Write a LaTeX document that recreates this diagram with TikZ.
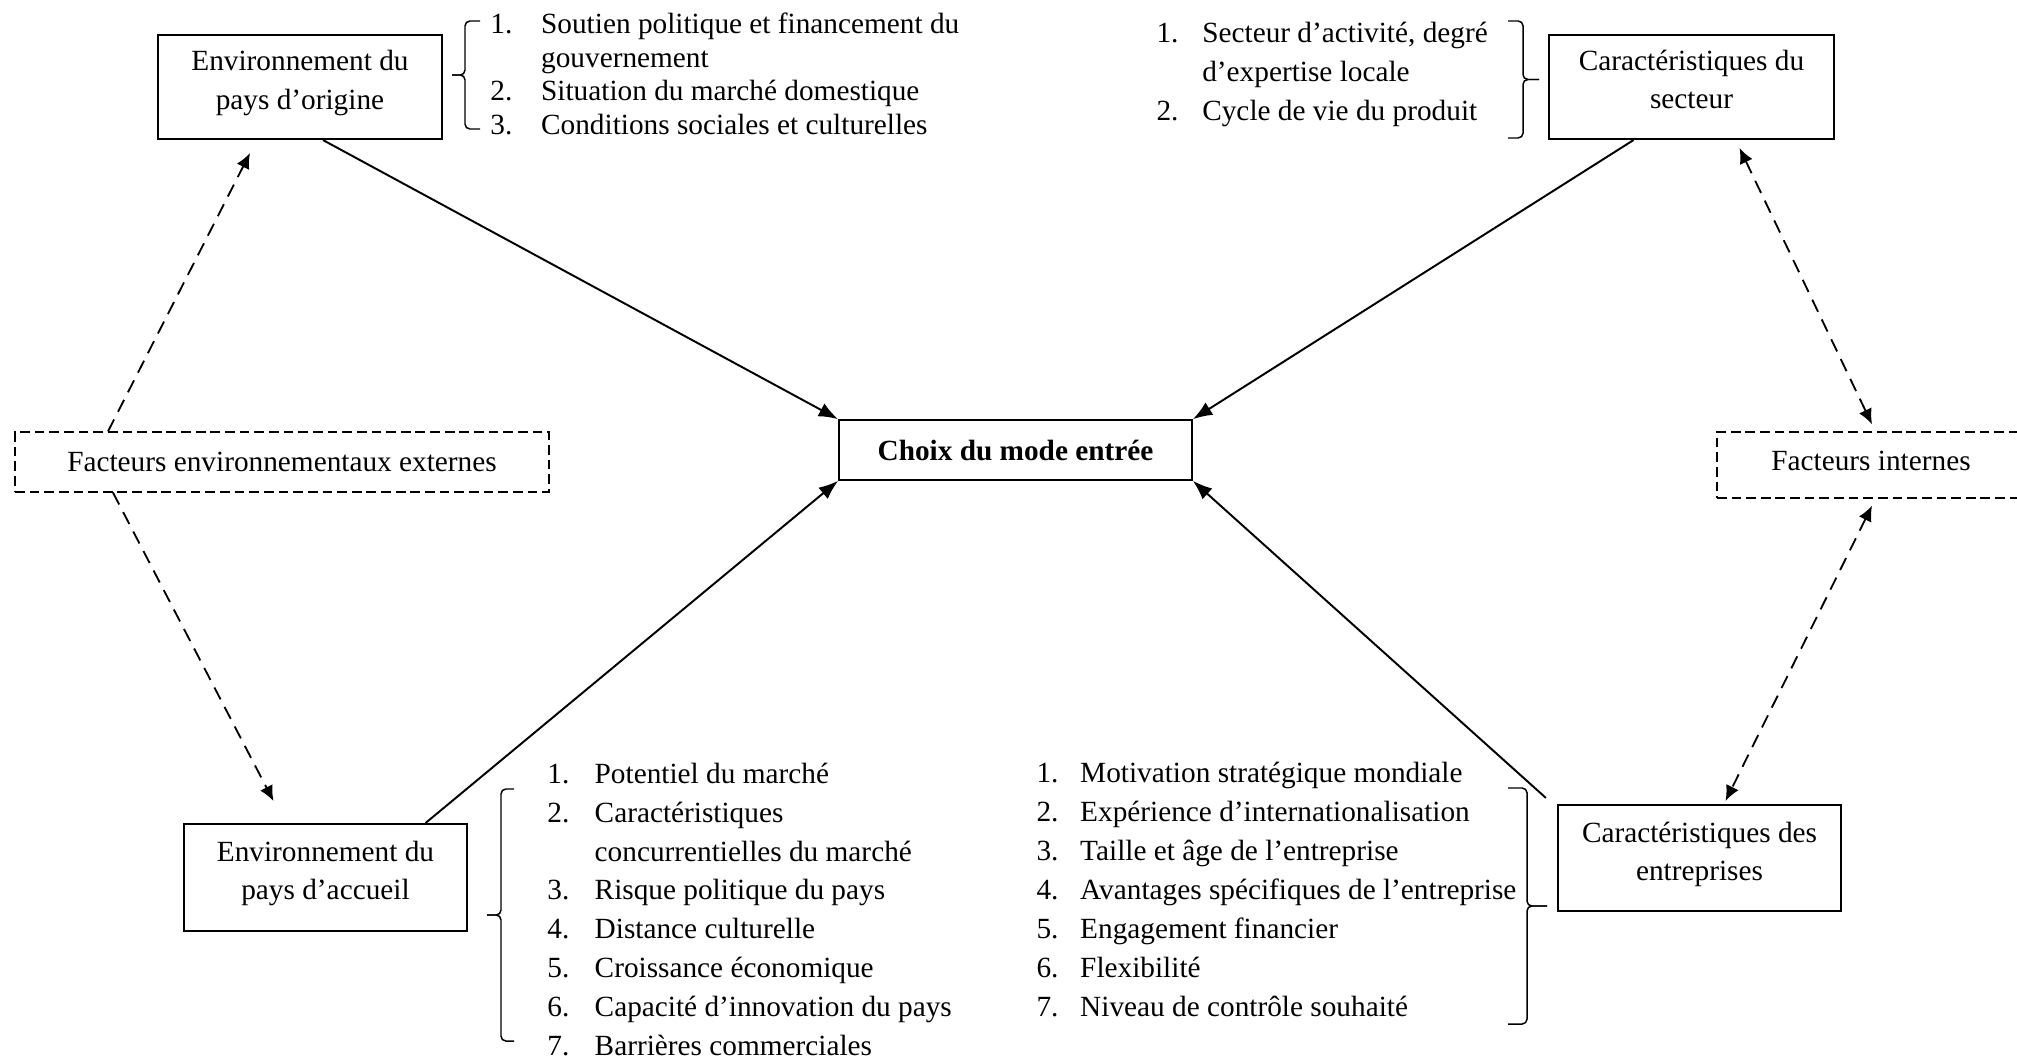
\documentclass[tikz,border=0pt]{standalone}
\usepackage{fontspec}
\setmainfont{Liberation Serif}
\usetikzlibrary{calc}
\usetikzlibrary{arrows.meta}
\tikzset{
  box/.style={draw, line width=0.8pt, align=center, inner sep=0pt,
    font=\fontsize{12}{15.7}\selectfont},
  dashbox/.style={draw, line width=0.6pt, dash pattern=on 4pt off 2pt, inner sep=0pt,
    font=\fontsize{12}{15}\selectfont},
  link/.style={line width=0.8pt, -{Latex[length=2.8mm,width=2.1mm]}},
  dashlink/.style={line width=0.75pt, dash pattern=on 5.5pt off 3.5pt,
    >={Latex[length=2.2mm,width=2mm]}},
  bracket/.style={line width=0.6pt, rounded corners=0.7mm},
  itemlist/.style={anchor=base west, inner sep=0pt}
}

\begin{document}
\begin{tikzpicture}[x=0.144mm, y=-0.144mm]
  \useasboundingbox (0,0) rectangle (2017,1059);

  \node[box, minimum width=50.8mm, minimum height=8.6mm] (choix) at (1015.5,450)
    {\textbf{Choix du mode entrée}};
  \node[box, minimum width=40.9mm, minimum height=15mm, text depth=2.1mm] (origine) at (300,87)
    {Environnement du\\pays d’origine};
  \node[box, minimum width=41mm, minimum height=15mm, text depth=2.2mm] (secteur) at (1691.5,87)
    {Caractéristiques du\\secteur};
  \node[box, minimum width=40.8mm, minimum height=15.4mm, text depth=2mm] (accueil) at (325.5,877.5)
    {Environnement du\\pays d’accueil};
  \node[box, minimum width=40.8mm, minimum height=15.3mm, text depth=2mm] (entreprises) at (1699.5,858)
    {Caractéristiques des\\entreprises};
  \node[dashbox, minimum width=76.9mm, minimum height=8.6mm] (externes) at (282,462)
    {Facteurs environnementaux externes};
  \node[dashbox, minimum width=44.4mm, minimum height=9.5mm, text depth=1.1mm] (internes) at (1871,465)
    {Facteurs internes};

  \node[itemlist, font=\fontsize{12}{13.8}\selectfont] (origlist) at (490,33.5)
    {\begin{tabular}[t]{@{}p{7.3mm}@{}l@{}}
      1. & Soutien politique et financement du\\
         & gouvernement\\
      2. & Situation du marché domestique\\
      3. & Conditions sociales et culturelles
    \end{tabular}};
  \node[itemlist, font=\fontsize{12}{15.8}\selectfont] (sectlist) at (1156,43)
    {\begin{tabular}[t]{@{}p{6.6mm}@{}l@{}}
      1. & Secteur d’activité, degré\\
         & d’expertise locale\\
      2. & Cycle de vie du produit
    \end{tabular}};
  \node[itemlist, font=\fontsize{12}{15.9}\selectfont] (acclist) at (547,783.5)
    {\begin{tabular}[t]{@{}p{6.8mm}@{}l@{}}
      1. & Potentiel du marché\\
      2. & Caractéristiques\\
         & concurrentielles du marché\\
      3. & Risque politique du pays\\
      4. & Distance culturelle\\
      5. & Croissance économique\\
      6. & Capacité d’innovation du pays\\
      7. & Barrières commerciales
    \end{tabular}};
  \node[itemlist, font=\fontsize{12}{16}\selectfont] (entlist) at (1036,782.5)
    {\begin{tabular}[t]{@{}p{6.3mm}@{}l@{}}
      1. & Motivation stratégique mondiale\\
      2. & Expérience d’internationalisation\\
      3. & Taille et âge de l’entreprise\\
      4. & Avantages spécifiques de l’entreprise\\
      5. & Engagement financier\\
      6. & Flexibilité\\
      7. & Niveau de contrôle souhaité
    \end{tabular}};

  \foreach \e/\v/\t/\a/\b in {480/465/452/21/129, 1508/1523/1539/21/138,
                             514/501/487/789/1041, 1508/1527/1547/788/1024}{%
    \pgfmathsetmacro{\m}{(\a+\b)/2}
    \draw[bracket] (\e,\a) -- (\v,\a) -- (\v,\m) -- (\t,\m);
    \draw[bracket] (\t,\m) -- (\v,\m) -- (\v,\b) -- (\e,\b);
  }

  \draw[link] ($(origine.south)+(23,0)$) -- (choix.north west);
  \draw[link] ($(secteur.south)+(-58,0)$) -- (choix.north east);
  \draw[link] ($(accueil.north)+(100,0)$) -- (choix.south west);
  \draw[link] ($(entreprises.north west)+(-11,-6)$) -- (choix.south east);

  \draw[dashlink,->] ($(externes.north)+(-174,0)$) -- ($(origine.south)+(-50,13)$);
  \draw[dashlink,->] ($(externes.south)+(-169,0)$) -- ($(accueil.north)+(-52,-22)$);
  \draw[dashlink,<->] ($(secteur.south)+(48,8)$) -- ($(internes.north)+(1,-7)$);
  \draw[dashlink,<->] ($(internes.south)+(1,7)$) -- ($(entreprises.north)+(26,-3)$);
\end{tikzpicture}
\end{document}
